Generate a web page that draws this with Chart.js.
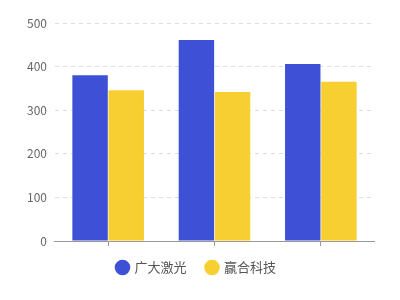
<!DOCTYPE html>
<html>
<head>
<meta charset="utf-8">
<script src="https://cdn.jsdelivr.net/npm/chart.js@4/dist/chart.umd.min.js"></script>
<style>
  html, body { margin: 0; padding: 0; background: #fff; }
  #wrap { width: 400px; height: 300px; }
</style>
</head>
<body>
<div id="wrap"><canvas id="c" width="400" height="300"></canvas></div>
<script>
const categories = ['2019', '2020', '2021'];
const seriesNames = ['广大激光', '赢合科技'];
const laserValues = [380, 461, 406];
const winValues = [346, 342, 365];
const yTicks = [0, 100, 200, 300, 400, 500];

const blue = '#3e50d6';
const yellow = '#f7cf31';
const family = '"Noto Sans CJK SC", "Noto Sans", sans-serif';

new Chart(document.getElementById('c'), {
  type: 'bar',
  data: {
    labels: categories,
    datasets: [
      { label: seriesNames[0], data: laserValues, backgroundColor: blue,
        categoryPercentage: 0.68, barPercentage: 0.98 },
      { label: seriesNames[1], data: winValues, backgroundColor: yellow,
        categoryPercentage: 0.68, barPercentage: 0.98 }
    ]
  },
  options: {
    responsive: false,
    animation: false,
    layout: { padding: { left: 19, right: 26, top: 23, bottom: 16 } },
    plugins: {
      tooltip: { enabled: false },
      legend: {
        position: 'bottom',
        labels: {
          usePointStyle: true,
          pointStyle: 'circle',
          boxWidth: 11,
          boxHeight: 11,
          padding: 20,
          color: '#555',
          font: { family: family, size: 13 }
        }
      }
    },
    scales: {
      x: {
        ticks: { display: false },
        // the small tick marks share space with the legend's top padding
        afterFit: (axis) => { axis.height = 0; },
        grid: {
          offset: false,
          drawOnChartArea: false,
          drawTicks: true,
          tickLength: 5,
          color: '#999'
        },
        border: { display: true, color: '#999', width: 1 }
      },
      y: {
        min: 0,
        max: 500,
        afterBuildTicks: (axis) => { axis.ticks = yTicks.map(v => ({ value: v })); },
        ticks: { color: '#666', font: { family: family, size: 12 }, padding: 8 },
        grid: { color: '#ddd', drawTicks: false },
        border: { display: false, dash: [4, 4] }
      }
    }
  }
});
</script>
</body>
</html>
